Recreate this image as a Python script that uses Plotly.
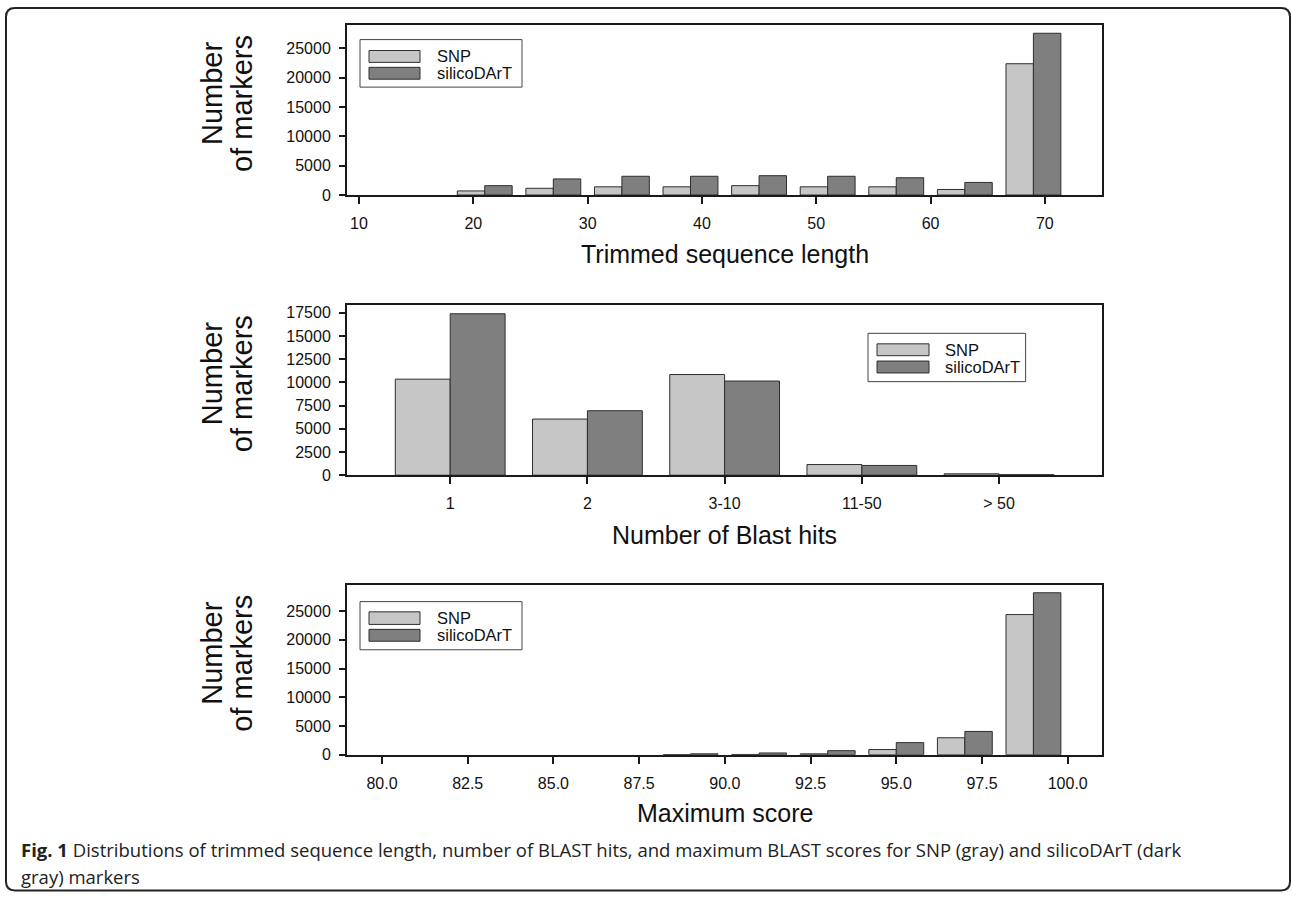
import plotly.graph_objects as go

W, H = 1292, 902

# ---------------- data ----------------
len_bins = [21, 27, 33, 39, 45, 51, 57, 63, 69]
len_snp = [700, 1150, 1400, 1400, 1600, 1400, 1400, 950, 22400]
len_silico = [1600, 2750, 3200, 3200, 3300, 3200, 2950, 2150, 27600]
len_ticks = [10, 20, 30, 40, 50, 60, 70]

hits_cats = ["1", "2", "3-10", "11-50", "> 50"]
hits_snp = [10350, 6050, 10850, 1150, 150]
hits_silico = [17400, 6950, 10150, 1050, 60]

score_bins = [89, 91, 93, 95, 97, 99]
score_snp = [10, 40, 150, 900, 2950, 24400]
score_silico = [150, 300, 700, 2100, 4050, 28200]
score_ticks = [80.0, 82.5, 85.0, 87.5, 90.0, 92.5, 95.0, 97.5, 100.0]

y_ticks_top = [0, 5000, 10000, 15000, 20000, 25000]
y_ticks_mid = [0, 2500, 5000, 7500, 10000, 12500, 15000, 17500]

series_names = ["SNP", "silicoDArT"]
caption_line1 = ("<b>Fig. 1</b> Distributions of trimmed sequence length, number of BLAST hits, "
                 "and maximum BLAST scores for SNP (gray) and silicoDArT (dark")
caption_line2 = "gray) markers"

# ---------------- style ----------------
SNP_C = "#c6c6c6"
SIL_C = "#7f7f7f"
EDGE = "#2e2e2e"
AX = "#1a1a1a"
FONT = "Liberation Sans, Arial, sans-serif"
CAP_FONT = "Open Sans, sans-serif"


def px(x):
    return x / W


def py(y):
    return 1 - y / H


panels = [  # (top, bottom) in pixels
    (25, 197),
    (308, 480),
    (590.5, 762.3),
]
X0, X1 = 347, 1102

fig = go.Figure()

data_sets = [
    (len_bins, len_snp, len_silico),
    (hits_cats, hits_snp, hits_silico),
    (score_bins, score_snp, score_silico),
]
for i, (xs, a, b) in enumerate(data_sets):
    suf = "" if i == 0 else str(i + 1)
    for vals, col, nm in [(a, SNP_C, series_names[0]), (b, SIL_C, series_names[1])]:
        fig.add_trace(go.Bar(
            x=xs, y=vals, name=nm, xaxis="x" + suf, yaxis="y" + suf,
            marker=dict(color=col, line=dict(color=EDGE, width=1)),
            showlegend=False,
        ))

common_x = dict(showline=True, mirror=True, linewidth=2, linecolor=AX,
                ticks="outside", ticklen=7, tickwidth=2, tickcolor=AX,
                showgrid=False, zeroline=False,
                tickfont=dict(family=FONT, size=16, color="#111"),
                ticklabelstandoff=6, domain=[px(X0), px(X1)])
common_y = dict(showline=True, mirror=True, linewidth=2, linecolor=AX,
                ticks="outside", ticklen=6, tickwidth=1.5, tickcolor=AX,
                showgrid=False, zeroline=False, tickformat="d",
                tickfont=dict(family=FONT, size=16, color="#111"),
                ticklabelstandoff=5)

layout = dict(
    width=W, height=H, margin=dict(l=0, r=0, t=0, b=0),
    paper_bgcolor="white", plot_bgcolor="white",
    barmode="group", bargap=0.2, bargroupgap=0,
    showlegend=False,
)

layout["xaxis"] = dict(common_x, anchor="y", range=[8.95, 75], tickvals=len_ticks)
layout["yaxis"] = dict(common_y, anchor="x", range=[0, 29050], tickvals=y_ticks_top,
                       domain=[py(panels[0][1]), py(panels[0][0])])
layout["xaxis2"] = dict(common_x, anchor="y2", type="category", range=[-0.752, 4.75])
layout["yaxis2"] = dict(common_y, anchor="x2", range=[0, 18350], tickvals=y_ticks_mid,
                        domain=[py(panels[1][1]), py(panels[1][0])])
layout["xaxis3"] = dict(common_x, anchor="y3", range=[78.98, 101], tickvals=score_ticks,
                        tickformat=".1f")
layout["yaxis3"] = dict(common_y, anchor="x3", range=[0, 29620], tickvals=y_ticks_top,
                        domain=[py(panels[2][1]), py(panels[2][0])])
fig.update_layout(**layout)

shapes = []
annotations = []

# outer rounded frame
fx0, fy0, fx1, fy1, r = 6, 8, 1290, 899.5, 9
path = (f"M {px(fx0 + r)},{py(fy0)} L {px(fx1 - r)},{py(fy0)} "
        f"Q {px(fx1)},{py(fy0)} {px(fx1)},{py(fy0 + r)} "
        f"L {px(fx1)},{py(fy1 - r)} Q {px(fx1)},{py(fy1)} {px(fx1 - r)},{py(fy1)} "
        f"L {px(fx0 + r)},{py(fy1)} Q {px(fx0)},{py(fy1)} {px(fx0)},{py(fy1 - r)} "
        f"L {px(fx0)},{py(fy0 + r)} Q {px(fx0)},{py(fy0)} {px(fx0 + r)},{py(fy0)} Z")
shapes.append(dict(type="path", xref="paper", yref="paper", path=path,
                   line=dict(color="#222", width=2)))


# manual legends
def legend(bx0, by0, bx1, by1, sx0, sx1, rows, tx):
    shapes.append(dict(type="rect", xref="paper", yref="paper",
                       x0=px(bx0), x1=px(bx1), y0=py(by0), y1=py(by1),
                       line=dict(color="#444", width=1), fillcolor="white"))
    for (ry0, ry1), col, nm in zip(rows, [SNP_C, SIL_C], series_names):
        shapes.append(dict(type="rect", xref="paper", yref="paper",
                           x0=px(sx0), x1=px(sx1), y0=py(ry0), y1=py(ry1),
                           line=dict(color=EDGE, width=1), fillcolor=col))
        annotations.append(dict(xref="paper", yref="paper", x=px(tx), y=py((ry0 + ry1) / 2),
                                xanchor="left", yanchor="middle", showarrow=False,
                                text=nm, font=dict(family=FONT, size=16.5, color="#111")))


legend(360, 40, 522, 88, 369, 420, [(51, 63), (68, 80)], 435)
legend(868, 336.7, 1025.6, 385.5, 877, 929, [(347.3, 359.3), (364.7, 376.7)], 943)
legend(360, 607.7, 522, 656.3, 369, 420, [(618, 630.7), (635.7, 647.7)], 435)

# axis titles
xtitles = [("Trimmed sequence length", 257), ("Number of Blast hits", 540), ("Maximum score", 821)]
for txt, yy in xtitles:
    annotations.append(dict(xref="paper", yref="paper", x=px((X0 + X1) / 2), y=py(yy),
                            xanchor="center", yanchor="middle", showarrow=False, text=txt,
                            font=dict(family=FONT, size=25, color="#111")))
for top, bot in panels:
    mid = (top + bot) / 2
    for txt, xx, dy in [("Number", 212, -16), ("of markers", 242, -6)]:
        annotations.append(dict(xref="paper", yref="paper", x=px(xx), y=py(mid + dy),
                                xanchor="center", yanchor="middle", showarrow=False, text=txt,
                                textangle=-90, font=dict(family=FONT, size=29, color="#111")))

# caption
annotations.append(dict(xref="paper", yref="paper", x=px(19), y=py(858), xanchor="left",
                        yanchor="middle", showarrow=False, text=caption_line1,
                        font=dict(family=CAP_FONT, size=18.5, color="#222")))
annotations.append(dict(xref="paper", yref="paper", x=px(19), y=py(885), xanchor="left",
                        yanchor="middle", showarrow=False, text=caption_line2,
                        font=dict(family=CAP_FONT, size=18.5, color="#222")))

fig.update_layout(shapes=shapes, annotations=annotations)
fig.write_html("out.html")
